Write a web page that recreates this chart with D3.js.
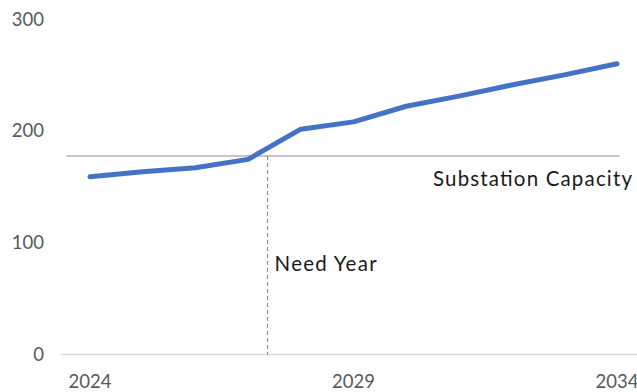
<!DOCTYPE html>
<html>
<head>
<meta charset="utf-8">
<script src="https://cdn.jsdelivr.net/npm/d3@7"></script>
<style>
  html, body { margin: 0; padding: 0; background: #fff; }
  svg { display: block; }
  text { font-family: Lato, "Open Sans", sans-serif; }
</style>
</head>
<body>
<svg id="chart" width="637" height="392"></svg>
<script>
const years = [2024, 2025, 2026, 2027, 2028, 2029, 2030, 2031, 2032, 2033, 2034];
const load = [159, 163.5, 167, 174.5, 201.5, 208, 222, 231, 241, 250, 260];
const yTicks = [0, 100, 200, 300];
const xTickLabels = [2024, 2029, 2034];
const capacity = 177.5;
const capacityLabel = "Substation Capacity";
const needYear = 2027.37;
const needLabel = "Need Year";

const svg = d3.select("#chart");
const x = d3.scaleLinear().domain([2024, 2034]).range([90, 617]);
const y = d3.scaleLinear().domain([0, 300]).range([354.5, 19]);

// category axis line (extends half a category beyond first/last point)
svg.append("line")
  .attr("x1", x(2023.45)).attr("x2", x(2034.6))
  .attr("y1", y(0)).attr("y2", y(0))
  .attr("stroke", "#d9d9d9").attr("stroke-width", 1.5);

// y tick labels
svg.append("g").selectAll("text").data(yTicks).join("text")
  .attr("x", 44).attr("y", d => y(d))
  .attr("dy", "0.36em")
  .attr("text-anchor", "end")
  .attr("font-size", 18.5)
  .attr("fill", "#595959")
  .text(d => d);

// x tick labels
svg.append("g").selectAll("text").data(xTickLabels).join("text")
  .attr("x", d => x(d)).attr("y", 388)
  .attr("text-anchor", "middle")
  .attr("font-size", 18.5)
  .attr("fill", "#595959")
  .text(d => d);

// capacity line
svg.append("line")
  .attr("x1", x(2023.55)).attr("x2", x(2034.05))
  .attr("y1", y(capacity)).attr("y2", y(capacity))
  .attr("stroke", "#8c8c8c").attr("stroke-width", 1.2);

svg.append("text")
  .attr("x", 433).attr("y", 186)
  .attr("font-size", 20.5)
  .attr("fill", "#1a1a1a")
  .attr("textLength", 199)
  .attr("lengthAdjust", "spacing")
  .text(capacityLabel);

// need year dashed line
svg.append("line")
  .attr("x1", x(needYear)).attr("x2", x(needYear))
  .attr("y1", y(capacity)).attr("y2", y(0))
  .attr("stroke", "#7f7f7f").attr("stroke-width", 1)
  .attr("stroke-dasharray", "4,3");

svg.append("text")
  .attr("x", x(needYear) + 7).attr("y", 271)
  .attr("font-size", 20.5)
  .attr("fill", "#1a1a1a")
  .attr("textLength", 102)
  .attr("lengthAdjust", "spacing")
  .text(needLabel);

// load line
svg.append("path")
  .datum(years.map((yr, i) => [yr, load[i]]))
  .attr("fill", "none")
  .attr("stroke", "#4472C4")
  .attr("stroke-width", 5)
  .attr("stroke-linecap", "round")
  .attr("stroke-linejoin", "round")
  .attr("d", d3.line().x(d => x(d[0])).y(d => y(d[1])));
</script>
</body>
</html>
